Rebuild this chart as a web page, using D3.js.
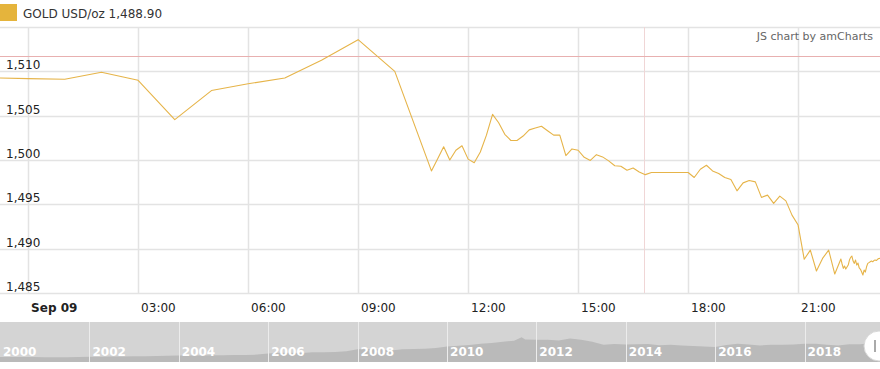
<!DOCTYPE html>
<html>
<head>
<meta charset="utf-8">
<script src="https://cdnjs.cloudflare.com/ajax/libs/d3/7.8.5/d3.min.js"></script>
<style>
  body { margin: 0; background: #fff; }
  svg { display: block; font-family: "DejaVu Sans", Verdana, sans-serif; }
</style>
</head>
<body>
<div id="chart"></div>
<script>
// hourly prices, Sep 08 23:00 -> Sep 09 10:00
var hourlyStart = new Date(2019, 8, 8, 23, 0);
var hourlyPrices = [1509.27, 1509.18, 1509.10, 1509.89, 1508.99, 1504.56, 1507.83,
                    1508.60, 1509.25, 1511.24, 1513.57, 1510.00];

// 10 minute prices, Sep 09 11:00 -> 22:10
var tenMinStart = new Date(2019, 8, 9, 11, 0);
var tenMinPrices = [1498.77, 1500.10, 1501.50, 1500.00, 1501.10, 1501.60, 1500.10, 1499.70,
                    1500.90, 1502.80, 1505.15, 1504.20, 1502.90, 1502.20, 1502.20, 1502.70,
                    1503.40, 1503.60, 1503.80, 1503.30, 1502.80, 1502.80, 1500.50, 1501.25,
                    1501.10, 1500.30, 1499.95, 1500.60, 1500.35, 1499.90, 1499.35, 1499.30,
                    1498.85, 1499.10, 1498.65, 1498.35, 1498.59, 1498.59, 1498.59, 1498.59,
                    1498.59, 1498.59, 1498.59, 1498.03, 1498.96, 1499.41, 1498.77, 1498.48,
                    1498.03, 1497.80, 1496.52, 1497.42, 1497.69, 1497.53, 1495.78, 1496.04,
                    1495.10, 1495.92, 1495.39, 1493.78, 1492.66, 1488.80, 1489.84, 1487.48,
                    1488.90, 1489.84, 1487.14, 1488.83];

// 2 minute prices, Sep 09 22:12 -> 23:12
var twoMinStart = new Date(2019, 8, 9, 22, 12);
var twoMinPrices = [1488.27, 1487.78, 1488.04, 1487.70, 1487.93, 1488.15, 1488.72, 1489.02,
                    1489.17, 1488.60, 1488.34, 1488.72, 1488.15, 1488.38, 1487.82, 1487.67,
                    1487.36, 1487.03, 1487.59, 1487.36, 1487.96, 1488.34, 1488.43, 1488.52,
                    1488.60, 1488.52, 1488.66, 1488.72, 1488.66, 1488.80, 1488.89, 1488.90];

var yTicks = [1485, 1490, 1495, 1500, 1505, 1510, 1515];
var guideValue = 1511.73;
var guideTime = new Date(2019, 8, 9, 16, 48);
var legendLabel = "GOLD USD/oz";
var lastPrice = "1,488.90";

// scrollbar history (2000 -> 2019), approx quarterly
var histYears = [2000, 2000.25, 2000.5, 2000.75, 2001, 2001.25, 2001.5, 2001.75, 2002, 2002.25,
                 2002.5, 2002.75, 2003, 2003.25, 2003.5, 2003.75, 2004, 2004.25, 2004.5, 2004.75,
                 2005, 2005.25, 2005.5, 2005.75, 2006, 2006.25, 2006.5, 2006.75, 2007, 2007.25,
                 2007.5, 2007.75, 2008, 2008.25, 2008.5, 2008.75, 2009, 2009.25, 2009.5, 2009.75,
                 2010, 2010.25, 2010.5, 2010.75, 2011, 2011.25, 2011.5, 2011.67, 2011.75, 2012,
                 2012.25, 2012.5, 2012.75, 2013, 2013.25, 2013.5, 2013.75, 2014, 2014.25, 2014.5,
                 2014.75, 2015, 2015.25, 2015.5, 2015.75, 2016, 2016.25, 2016.5, 2016.75, 2017,
                 2017.25, 2017.5, 2017.75, 2018, 2018.25, 2018.5, 2018.75, 2019, 2019.25, 2019.5,
                 2019.69];
var histPrices = [285, 280, 282, 270, 265, 262, 268, 280, 290, 305, 315, 318, 345, 335, 350, 375,
                  405, 395, 395, 420, 425, 430, 430, 470, 550, 620, 620, 600, 650, 665, 670, 740,
                  900, 910, 890, 800, 900, 920, 945, 1000, 1110, 1180, 1230, 1340, 1400, 1500, 1580,
                  1850, 1680, 1650, 1660, 1600, 1750, 1650, 1500, 1250, 1320, 1280, 1300, 1310,
                  1220, 1250, 1200, 1150, 1120, 1070, 1240, 1330, 1270, 1200, 1250, 1250, 1280,
                  1330, 1330, 1250, 1200, 1290, 1300, 1400, 1500];
var yearLabels = [2000, 2002, 2004, 2006, 2008, 2010, 2012, 2014, 2016, 2018];

var width = 880, height = 369;
var plotTop = 27, plotBottom = 293;
var goldColor = "#e6b449";

var svg = d3.select("#chart").append("svg")
            .attr("width", width)
            .attr("height", height);

function buildSeries(start, stepMin, values) {
  return values.map(function (v, i) {
    return { t: new Date(start.getTime() + i * stepMin * 60000), v: v };
  });
}

var data = buildSeries(hourlyStart, 60, hourlyPrices)
  .concat(buildSeries(tenMinStart, 10, tenMinPrices))
  .concat(buildSeries(twoMinStart, 2, twoMinPrices));

var endTime = data[data.length - 1].t;
var startTime = new Date(endTime.getTime() - 24 * 3600000);

var x = d3.scaleTime()
          .domain([startTime, endTime])
          .range([0, width]);

var y = d3.scaleLinear()
          .domain([1485, 1515])
          .range([plotBottom, plotTop]);

// grid
var hourTicks = x.ticks(d3.timeHour.every(3));

svg.append("g").selectAll("line")
   .data(yTicks)
   .enter().append("line")
   .attr("x1", 0)
   .attr("x2", width)
   .attr("y1", function (d) { return Math.round(y(d)) + 0.5; })
   .attr("y2", function (d) { return Math.round(y(d)) + 0.5; })
   .attr("stroke", "#e3e3e3")
   .attr("stroke-width", 1.5);

svg.append("g").selectAll("line")
   .data(hourTicks)
   .enter().append("line")
   .attr("x1", function (d) { return Math.round(x(d)) + 0.5; })
   .attr("x2", function (d) { return Math.round(x(d)) + 0.5; })
   .attr("y1", plotTop)
   .attr("y2", plotBottom)
   .attr("stroke", "#e3e3e3")
   .attr("stroke-width", 1.5);

// guides
svg.append("line")
   .attr("x1", Math.round(x(guideTime)) + 0.5)
   .attr("x2", Math.round(x(guideTime)) + 0.5)
   .attr("y1", plotTop)
   .attr("y2", plotBottom)
   .attr("stroke", "#f0d6d6")
   .attr("stroke-width", 1);

svg.append("line")
   .attr("x1", 0)
   .attr("x2", width)
   .attr("y1", Math.round(y(guideValue)) + 0.5)
   .attr("y2", Math.round(y(guideValue)) + 0.5)
   .attr("stroke", "#e8b0b0")
   .attr("stroke-width", 1);

// y labels
svg.append("g").selectAll("text")
   .data(yTicks.slice(0, -1))
   .enter().append("text")
   .attr("x", 6)
   .attr("y", function (d) { return y(d) - 2; })
   .text(d3.format(","))
   .attr("fill", "#222")
   .attr("font-size", "12px");

// x labels
var hourFmt = d3.timeFormat("%H:%M");
svg.append("g").selectAll("text")
   .data(hourTicks)
   .enter().append("text")
   .attr("x", function (d) { return x(d) + 3; })
   .attr("y", 312)
   .text(function (d) { return d.getHours() === 0 ? d3.timeFormat("%b %d")(d) : hourFmt(d); })
   .attr("font-weight", function (d) { return d.getHours() === 0 ? "bold" : "normal"; })
   .attr("fill", "#222")
   .attr("font-size", "12px");

// price line
svg.append("clipPath").attr("id", "plotClip")
   .append("rect")
   .attr("x", 0).attr("y", plotTop)
   .attr("width", width).attr("height", plotBottom - plotTop);

var line = d3.line()
             .x(function (d) { return x(d.t); })
             .y(function (d) { return y(d.v); });

svg.append("path")
   .datum(data)
   .attr("clip-path", "url(#plotClip)")
   .attr("d", line)
   .attr("fill", "none")
   .attr("stroke", goldColor)
   .attr("stroke-width", 1.1)
   .attr("stroke-linejoin", "round");

// legend
svg.append("rect")
   .attr("x", 0).attr("y", 4)
   .attr("width", 17).attr("height", 17)
   .attr("fill", "#e5b43c");

svg.append("text")
   .attr("x", 23)
   .attr("y", 18)
   .text(legendLabel + " " + lastPrice)
   .attr("fill", "#333")
   .attr("font-size", "12px");

svg.append("text")
   .attr("x", 873)
   .attr("y", 40)
   .attr("text-anchor", "end")
   .text("JS chart by amCharts")
   .attr("fill", "#666")
   .attr("font-size", "11px");

// scrollbar
var sbTop = 322, sbBottom = 362;
var sx = d3.scaleTime()
           .domain([new Date(2000, 0, 1), new Date(2019, 8, 9)])
           .range([0, width]);
var sy = d3.scaleLinear()
           .domain([-120, 3070])
           .range([sbBottom, sbTop]);

function yearToDate(yr) {
  var whole = Math.floor(yr);
  var a = new Date(whole, 0, 1), b = new Date(whole + 1, 0, 1);
  return new Date(a.getTime() + (yr - whole) * (b - a));
}

svg.append("rect")
   .attr("x", 0).attr("y", sbTop)
   .attr("width", width).attr("height", sbBottom - sbTop)
   .attr("fill", "#d4d4d4");

var area = d3.area()
             .x(function (d, i) { return sx(yearToDate(histYears[i])); })
             .y0(sbBottom)
             .y1(function (d) { return sy(d); })
             .curve(d3.curveLinear);

svg.append("path")
   .datum(histPrices)
   .attr("d", area)
   .attr("fill", "#bababa");

svg.append("g").selectAll("line")
   .data(yearLabels.slice(1))
   .enter().append("line")
   .attr("x1", function (d) { return Math.round(sx(new Date(d, 0, 1))) + 0.5; })
   .attr("x2", function (d) { return Math.round(sx(new Date(d, 0, 1))) + 0.5; })
   .attr("y1", sbTop)
   .attr("y2", sbBottom)
   .attr("stroke", "#ececec")
   .attr("stroke-width", 1);

svg.append("g").selectAll("text")
   .data(yearLabels)
   .enter().append("text")
   .attr("x", function (d) { return sx(new Date(d, 0, 1)) + 3; })
   .attr("y", 356)
   .text(function (d) { return d; })
   .attr("fill", "#fff")
   .attr("font-weight", "bold")
   .attr("font-size", "12px");

// grip on the right
svg.append("circle")
   .attr("cx", 879).attr("cy", 346)
   .attr("r", 15)
   .attr("fill", "#fff")
   .attr("stroke", "#d8d8d8")
   .attr("stroke-width", 1);

svg.append("rect")
   .attr("x", 874).attr("y", 340)
   .attr("width", 2).attr("height", 12)
   .attr("fill", "#aaa");
</script>
</body>
</html>
